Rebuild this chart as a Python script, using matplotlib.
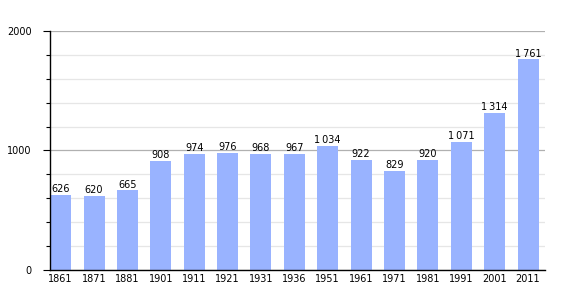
import numpy as np
import matplotlib.pyplot as plt
from matplotlib.ticker import MultipleLocator

# data
years = ["1861", "1871", "1881", "1901", "1911", "1921", "1931", "1936",
         "1951", "1961", "1971", "1981", "1991", "2001", "2011"]
population = [626, 620, 665, 908, 974, 976, 968, 967,
              1034, 922, 829, 920, 1071, 1314, 1761]

def fmt(v):
    s = f"{v:,}"
    return s.replace(",", "\u2009")

fig = plt.figure(figsize=(5.7, 3.0), dpi=100)
ax = fig.add_axes([0.0877, 0.1, 0.868, 0.797])

x = np.arange(len(years))
ax.bar(x, population, width=0.63, color="#99b3ff", zorder=2)

for xi, v in zip(x, population):
    ax.text(xi, v + 8, fmt(v), ha="center", va="bottom", fontsize=7, color="black", zorder=3)

ax.set_xlim(-0.32, 14.5)
ax.set_ylim(0, 2000)
ax.yaxis.set_major_locator(MultipleLocator(1000))
ax.yaxis.set_minor_locator(MultipleLocator(200))
ax.grid(axis="y", which="major", color="#b0b0b0", linewidth=0.9, zorder=1)
ax.grid(axis="y", which="minor", color="#e6e6e6", linewidth=0.9, zorder=1)

ax.set_xticks(x)
ax.set_xticklabels(years, fontsize=7)
ax.tick_params(axis="x", length=0, pad=3)
ax.tick_params(axis="y", which="major", length=5, width=0.8, labelsize=7, pad=8)
ax.tick_params(axis="y", which="minor", length=3, width=0.8)

ax.spines["top"].set_visible(False)
ax.spines["right"].set_visible(False)
ax.spines["left"].set_linewidth(1.0)
ax.spines["bottom"].set_linewidth(1.0)

plt.savefig("out.png", dpi=100)
